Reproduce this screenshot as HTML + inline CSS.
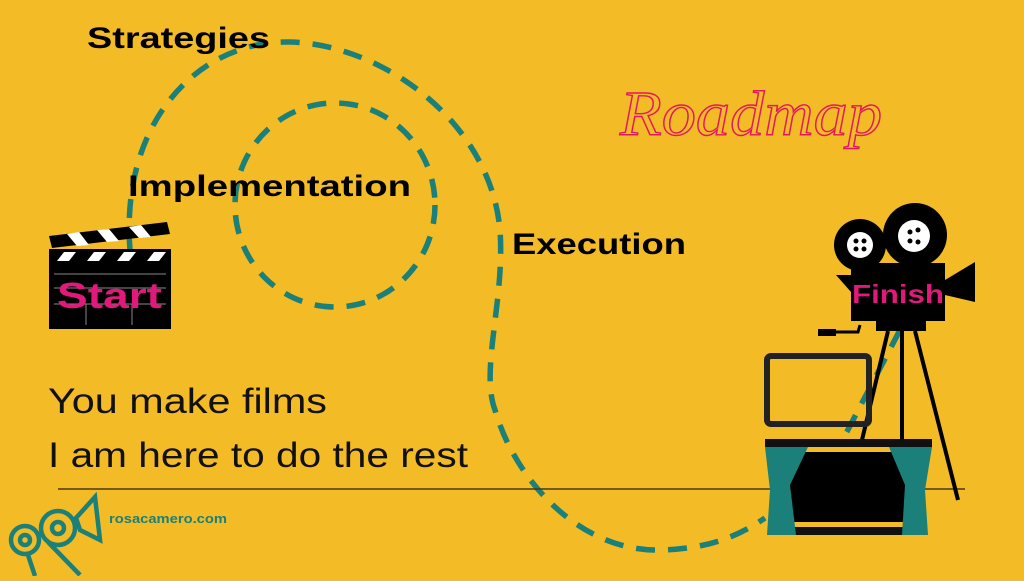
<!DOCTYPE html>
<html><head><style>
body{margin:0;width:1024px;height:576px;overflow:hidden;background:#F3BB25;font-family:"Liberation Sans",sans-serif;}
</style></head><body>
<svg width="1024" height="576" viewBox="0 0 1024 576" xmlns="http://www.w3.org/2000/svg">
<rect width="1024" height="576" fill="#F3BB25"/>
<g fill="none" stroke="#1B8079" stroke-width="5.5" stroke-dasharray="19,13">
<path d="M130,250 C120,120 200,40 290,42 C380,44 490,120 500,230 C505,300 480,370 495,410 C515,480 580,552 660,550 C710,549 740,535 765,518"/>
<ellipse cx="335" cy="205" rx="100" ry="102"/>
<path d="M900,330 L840,445"/>
</g>
<line x1="58" y1="489" x2="965" y2="489" stroke="#4a3a10" stroke-width="1.5"/>
<g font-family="Liberation Sans,sans-serif" font-weight="bold" fill="#000">
<text x="87" y="48" font-size="30" textLength="183" lengthAdjust="spacingAndGlyphs">Strategies</text>
<text x="128" y="196" font-size="30" textLength="283" lengthAdjust="spacingAndGlyphs">Implementation</text>
<text x="512" y="254" font-size="30" textLength="174" lengthAdjust="spacingAndGlyphs">Execution</text>
</g>
<text x="48" y="413" font-size="35" fill="#111" textLength="279" lengthAdjust="spacingAndGlyphs">You make films</text>
<text x="48" y="467" font-size="35" fill="#111" textLength="420" lengthAdjust="spacingAndGlyphs">I am here to do the rest</text>
<text x="620" y="135" font-size="64" font-family="Liberation Serif,serif" font-style="italic" fill="none" stroke="#E0195F" stroke-width="1.4" textLength="262" lengthAdjust="spacingAndGlyphs">Roadmap</text>
<g transform="translate(49,222)">
<polygon points="0,14 118,0 121,12 3,26" fill="#000"/>
<g fill="#fff"><polygon points="18,12 30,10 40,23 28,24"/><polygon points="48,8 60,7 70,19 58,20"/><polygon points="80,5 92,3 102,15 90,16"/></g>
<rect x="0" y="27" width="122" height="80" fill="#000"/>
<g fill="#fff"><polygon points="15,30 27,30 20,39 8,39"/><polygon points="45,30 57,30 50,39 38,39"/><polygon points="75,30 87,30 80,39 68,39"/><polygon points="105,30 117,30 110,39 98,39"/></g>
<g stroke="#888" stroke-width="1"><line x1="5" y1="52" x2="117" y2="52"/><line x1="5" y1="66" x2="117" y2="66"/><line x1="5" y1="82" x2="117" y2="82"/><line x1="37" y1="82" x2="37" y2="103"/><line x1="83" y1="82" x2="83" y2="103"/></g>
<text x="8" y="86" font-size="36" font-weight="bold" fill="#E0197A" textLength="105" lengthAdjust="spacingAndGlyphs">Start</text>
</g>
<g>
<circle cx="860" cy="245" r="26" fill="#000"/><circle cx="915" cy="235" r="32" fill="#000"/>
<circle cx="860" cy="245" r="13" fill="#fff"/><circle cx="914" cy="236" r="16" fill="#fff"/>
<g fill="#000"><circle cx="856" cy="241" r="2.5"/><circle cx="864" cy="241" r="2.5"/><circle cx="856" cy="249" r="2.5"/><circle cx="864" cy="249" r="2.5"/><circle cx="910" cy="232" r="2.5"/><circle cx="918" cy="230" r="2.5"/><circle cx="910" cy="241" r="2.5"/><circle cx="918" cy="242" r="2.5"/></g>
<rect x="851" y="263" width="94" height="58" fill="#000"/>
<polygon points="945,280 975,262 975,302 945,295" fill="#000"/>
<polygon points="836,275 851,275 851,292" fill="#000"/>
<text x="852" y="303" font-size="26" font-weight="bold" fill="#E0197A" textLength="92" lengthAdjust="spacingAndGlyphs">Finish</text>
<rect x="876" y="321" width="50" height="10" fill="#000"/>
<path d="M860,325 L858,332 L830,332" stroke="#000" stroke-width="3" fill="none"/>
<rect x="818" y="329" width="18" height="7" fill="#000"/>
<g stroke="#000" stroke-width="4"><line x1="888" y1="331" x2="862" y2="440"/><line x1="902" y1="331" x2="902" y2="440"/><line x1="915" y1="331" x2="958" y2="500"/></g>
</g>
<rect x="767" y="356" width="102" height="68" rx="4" fill="none" stroke="#222" stroke-width="6"/>
<rect x="765" y="439" width="167" height="8" fill="#111"/>
<rect x="787" y="452" width="122" height="70" fill="#000"/>
<rect x="782" y="527" width="135" height="8" fill="#111"/>
<path d="M765,447 L808,447 L790,485 L796,535 L767,535 L770,490 Z" fill="#1B8079"/>
<path d="M932,447 L889,447 L905,485 L902,535 L928,535 L925,490 Z" fill="#1B8079"/>
<g fill="none" stroke="#1B8079" stroke-width="4.5">
<circle cx="25" cy="540" r="14"/><circle cx="25" cy="540" r="5"/>
<circle cx="58" cy="528" r="17"/><circle cx="58" cy="528" r="6"/>
<polygon points="76,518 95,497 100,540 80,530"/>
<line x1="28" y1="555" x2="35" y2="576"/><line x1="48" y1="542" x2="80" y2="575"/>
</g>
<text x="109" y="523" font-size="13" font-weight="bold" fill="#1B8079" textLength="118" lengthAdjust="spacingAndGlyphs">rosacamero.com</text>
</svg>
</body></html>
